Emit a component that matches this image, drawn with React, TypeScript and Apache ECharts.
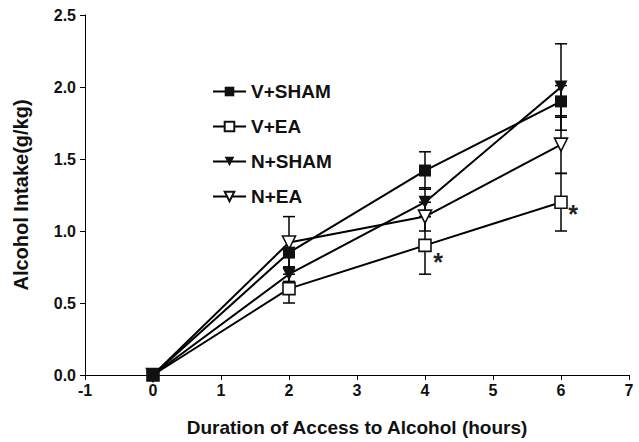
import React, { useEffect, useRef } from "react";
import * as echarts from "echarts";

const hours = [0, 2, 4, 6];
const seriesNames = ["V+SHAM", "V+EA", "N+SHAM", "N+EA"];
const vSham = [0, 0.85, 1.42, 1.9];
const vEa = [0, 0.6, 0.9, 1.2];
const nSham = [0, 0.7, 1.2, 2.0];
const nEa = [0, 0.92, 1.1, 1.6];
const vShamErr = [0, 0.1, 0.13, 0.11];
const vEaErr = [0, 0.1, 0.2, 0.2];
const nShamErr = [0, 0.05, 0.1, 0.3];
const nEaErr = [0, 0.18, 0.1, 0.2];
const starred = [false, false, true, true]; // V+EA significance markers

const FONT = "'Liberation Sans', Arial, sans-serif";
const downTri = "path://M0,0 L10,0 L5,9 Z";

export default function App() {
  const ref = useRef<HTMLDivElement>(null);
  useEffect(() => {
    document.body.style.margin = "0";
    if (!ref.current) return;
    const chart = echarts.init(ref.current, null, { renderer: "svg" });
    const values = [vSham, vEa, nSham, nEa];
    const errs = [vShamErr, vEaErr, nShamErr, nEaErr];
    const symbols = ["rect", "rect", downTri, downTri];
    const filled = [true, false, true, false];
    const sizes = [12, 12, 13, 13];
    const zs = [8, 5, 7, 6];
    const starOffsets: Record<number, number[]> = { 2: [13, 17], 3: [12, 12] };

    const errData: number[][] = [];
    values.forEach((vals, si) => {
      vals.forEach((v, i) => {
        if (errs[si][i] > 0) errData.push([hours[i], v - errs[si][i], v + errs[si][i]]);
      });
    });

    const lineSeries = values.map((vals, si) => ({
      name: seriesNames[si],
      type: "line",
      z: zs[si],
      symbol: symbols[si],
      symbolSize: sizes[si],
      lineStyle: { color: "#000", width: 2 },
      itemStyle: {
        color: filled[si] ? "#111" : "#fff",
        borderColor: "#111",
        borderWidth: filled[si] ? 0 : 1.6,
      },
      data: vals.map((v, i) => {
        const item: any = { value: [hours[i], v] };
        if (si === 1 && starred[i]) {
          item.label = {
            show: true,
            formatter: "*",
            position: "inside",
            offset: starOffsets[i],
            fontSize: 25,
            fontWeight: "bold",
            fontFamily: FONT,
            color: "#222",
          };
        }
        return item;
      }),
    }));

    chart.setOption({
      animation: false,
      backgroundColor: "#fff",
      grid: { left: 85, right: 10, top: 15, bottom: 67 },
      legend: {
        orient: "vertical",
        left: 207,
        top: 77,
        itemWidth: 33,
        itemHeight: 12,
        itemGap: 16,
        itemTextGap: 12,
        data: seriesNames,
        textStyle: { fontFamily: FONT, fontWeight: "bold", fontSize: 19, color: "#111" },
      },
      xAxis: {
        type: "value",
        min: -1,
        max: 7,
        interval: 1,
        name: "Duration of Access to Alcohol (hours)",
        nameLocation: "middle",
        nameGap: 43,
        nameTextStyle: { fontFamily: FONT, fontWeight: "bold", fontSize: 19, color: "#111" },
        axisLine: { lineStyle: { color: "#000", width: 1 } },
        axisTick: { show: true, length: 5, lineStyle: { color: "#000" } },
        axisLabel: { fontFamily: FONT, fontWeight: "bold", fontSize: 16, color: "#111", margin: 7 },
        splitLine: { show: false },
      },
      yAxis: {
        type: "value",
        min: 0,
        max: 2.5,
        interval: 0.5,
        name: "Alcohol Intake(g/kg)",
        nameLocation: "middle",
        nameGap: 54,
        nameTextStyle: { fontFamily: FONT, fontWeight: "bold", fontSize: 20, color: "#111" },
        axisLine: { show: true, onZero: false, lineStyle: { color: "#000", width: 1 } },
        axisTick: { show: true, length: 5, lineStyle: { color: "#000" } },
        axisLabel: {
          fontFamily: FONT,
          fontWeight: "bold",
          fontSize: 16,
          color: "#111",
          margin: 9,
          formatter: (v: number) => v.toFixed(1),
        },
        splitLine: { show: false },
      },
      series: [
        {
          type: "custom",
          name: "err",
          z: 2,
          silent: true,
          data: errData,
          renderItem: (params: any, api: any) => {
            const x = api.value(0);
            const lo = api.coord([x, api.value(1)]);
            const hi = api.coord([x, api.value(2)]);
            const hw = 6;
            const st = { stroke: "#000", lineWidth: 1.5 };
            return {
              type: "group",
              children: [
                { type: "line", shape: { x1: lo[0], y1: lo[1], x2: hi[0], y2: hi[1] }, style: st },
                { type: "line", shape: { x1: lo[0] - hw, y1: lo[1], x2: lo[0] + hw, y2: lo[1] }, style: st },
                { type: "line", shape: { x1: hi[0] - hw, y1: hi[1], x2: hi[0] + hw, y2: hi[1] }, style: st },
              ],
            };
          },
        },
        ...lineSeries,
      ],
    });
    return () => chart.dispose();
  }, []);
  return <div ref={ref} style={{ width: 639, height: 442 }} />;
}
